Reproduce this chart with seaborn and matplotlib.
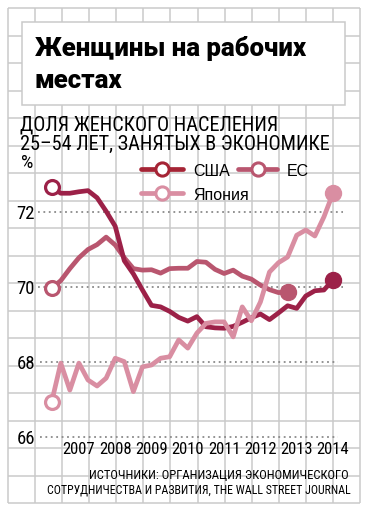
import matplotlib
matplotlib.use("Agg")
import matplotlib.pyplot as plt
from matplotlib import font_manager as fm
from matplotlib.patches import Rectangle
import seaborn as sns
import numpy as np

# ---------------- data ----------------
start_year = 2006.25
quarter = 0.25
usa = [72.66, 72.50, 72.50, 72.54, 72.57, 72.38, 72.02, 71.62, 70.70, 70.35,
       69.92, 69.51, 69.47, 69.35, 69.19, 69.09, 69.21, 68.94, 68.91, 68.90,
       68.95, 69.06, 69.18, 69.28, 69.13, 69.31, 69.50, 69.43, 69.76, 69.90,
       69.92, 70.19]
eu = [69.97, 70.17, 70.49, 70.78, 71.00, 71.13, 71.33, 71.12, 70.78, 70.49,
      70.45, 70.46, 70.37, 70.49, 70.50, 70.50, 70.68, 70.66, 70.47, 70.36,
      70.45, 70.29, 70.21, 70.05, 69.93, 69.85, 69.88]
japan = [66.94, 67.97, 67.25, 67.97, 67.52, 67.36, 67.57, 68.10, 68.01, 67.21,
         67.87, 67.92, 68.10, 68.14, 68.59, 68.37, 68.77, 69.03, 69.07, 69.07,
         68.67, 69.47, 69.10, 69.60, 70.40, 70.65, 70.80, 71.38, 71.52, 71.36,
         71.87, 72.50]
series_names = ["США", "ЕС", "Япония"]
year_ticks = [2007, 2008, 2009, 2010, 2011, 2012, 2013, 2014]
y_ticks = [66, 68, 70, 72]

title = "Женщины на рабочих\nместах"
subtitle = "ДОЛЯ ЖЕНСКОГО НАСЕЛЕНИЯ\n25–54 ЛЕТ, ЗАНЯТЫХ В ЭКОНОМИКЕ"
source = "ИСТОЧНИКИ: ОРГАНИЗАЦИЯ ЭКОНОМИЧЕСКОГО\nСОТРУДНИЧЕСТВА И РАЗВИТИЯ, THE WALL STREET JOURNAL"

# ---------------- style ----------------
sns.set_theme(style="white")
names = set(fm.get_font_names())

def pick(cands, default="DejaVu Sans"):
    for c in cands:
        if c in names:
            return c
    return default

COND = pick(["Liberation Sans Narrow", "Roboto Condensed", "Open Sans Condensed", "Liberation Sans"])
REG = pick(["Liberation Sans", "Roboto", "DejaVu Sans"])
HEAVY = pick(["Roboto", "Inter", "Lato", "Open Sans", "DejaVu Sans"])
plt.rcParams['font.family'] = [COND, 'DejaVu Sans']

C_US = "#9c2148"
C_US_LEG = "#a52435"
C_EU = "#b9566f"
C_JP = "#d98ea2"
C_GRID = "#cacaca"

W, H = 369, 514
fig = plt.figure(figsize=(W / 100, H / 100), dpi=100)
fig.patch.set_facecolor("white")

# background axes in pixel coordinates
bg = fig.add_axes([0, 0, 1, 1])
bg.set_xlim(0, W)
bg.set_ylim(H, 0)
bg.axis("off")

gx = 8 + np.arange(14) * (352 / 13)
gy = 8 + np.arange(19) * (495 / 18)
bg.vlines(gx, 8, 503, color=C_GRID, lw=1.1, zorder=0)
bg.hlines(gy, 8, 360, color=C_GRID, lw=1.1, zorder=0)
bg.add_patch(Rectangle((22, 22), 323, 83, facecolor="white", edgecolor=C_GRID, lw=1.1, zorder=1))

title_lines = title.split("\n")
bg.text(35, 56, title_lines[0], fontsize=18.5, fontweight=900, family=[HEAVY, 'DejaVu Sans'],
        va="baseline", ha="left", color="black", zorder=2)
bg.text(35, 88, title_lines[1], fontsize=18.5, fontweight=900, family=[HEAVY, 'DejaVu Sans'],
        va="baseline", ha="left", color="black", zorder=2)

sub_lines = subtitle.split("\n")
bg.text(20, 131, sub_lines[0], fontsize=14.6, va="baseline", ha="left", color="black", zorder=2)
bg.text(20, 150, sub_lines[1], fontsize=14.6, va="baseline", ha="left", color="black", zorder=2)
bg.text(21, 168, "%", fontsize=14, va="baseline", ha="left", color="black", zorder=2)

src_lines = source.split("\n")
bg.text(349, 479, src_lines[0], fontsize=9.1, va="baseline", ha="right", color="black", zorder=2)
bg.text(351, 493, src_lines[1], fontsize=8.6, va="baseline", ha="right", color="black", zorder=2)

# legend (manual)
def leg(x0, x1, y, color, label):
    bg.plot([x0, x1], [y, y], color=color, lw=3.4, solid_capstyle="round", zorder=3)
    bg.plot([(x0 + x1) / 2], [y], marker="o", ms=9.5, mfc="white", mec=color, mew=2.2, zorder=4)
    bg.text(x1 + 10, y + 7, label, fontsize=11.5, family=[REG, 'DejaVu Sans'], va="baseline", ha="left", color="black")

leg(141, 183, 169, C_US_LEG, series_names[0])
leg(238, 277, 169, C_EU, series_names[1])
leg(141, 183, 193, C_JP, series_names[2])

# main data axes: pixel mapping
px_per_year = (333 - 51.7) / 7.75
L, R = 38, 343
T, B = 150, 440
ax = fig.add_axes([L / W, 1 - B / H, (R - L) / W, (B - T) / H])
ax.patch.set_alpha(0)
x0 = start_year - (51.7 - L) / px_per_year
x1 = start_year + (R - 51.7) / px_per_year
ax.set_xlim(x0, x1)
ppu = 37.5
ax.set_ylim(66 - (B - 437) / ppu, 72 + (212 - T) / ppu)
sns.despine(ax=ax, left=True, bottom=True, top=True, right=True)

for v in y_ticks:
    if v >= 70:
        ax.hlines(v, x0, x1, colors="#8a8a8a", linestyles=(0, (1, 2)), lw=1.3, zorder=1)
    else:
        ax.hlines(v, x0 + 2 / px_per_year, x1 - 5 / px_per_year, colors="#8a8a8a",
                  linestyles=(0, (1, 2)), lw=1.3, zorder=1)

def xs(n):
    return [start_year + quarter * i for i in range(n)]

for vals, color, z in [(eu, C_EU, 3), (usa, C_US, 4), (japan, C_JP, 5)]:
    x = xs(len(vals))
    sns.lineplot(x=x, y=vals, ax=ax, color=color, lw=3.4, zorder=z, legend=False)
    ax.plot([x[0]], [vals[0]], marker="o", ms=10, mfc="white", mec=color, mew=2.3, zorder=z + 3, clip_on=False)
    ax.plot([x[-1]], [vals[-1]], marker="o", ms=11.5, color=color, zorder=z + 3, clip_on=False)
for l in ax.lines:
    l.set_clip_on(False)
    l.set_solid_joinstyle("round")

ax.set_xticks(year_ticks)
ax.set_xticklabels([str(y) for y in year_ticks], fontsize=12)
ax.set_yticks(y_ticks)
ax.set_yticklabels([str(v) for v in y_ticks], fontsize=13.5)
ax.tick_params(axis="x", length=0, pad=1.5, colors="black")
ax.tick_params(axis="y", length=0, pad=2, colors="black")
ax.set_xlabel("")
ax.set_ylabel("")
ax.grid(False)

fig.savefig("out.png", dpi=100, facecolor="white")
